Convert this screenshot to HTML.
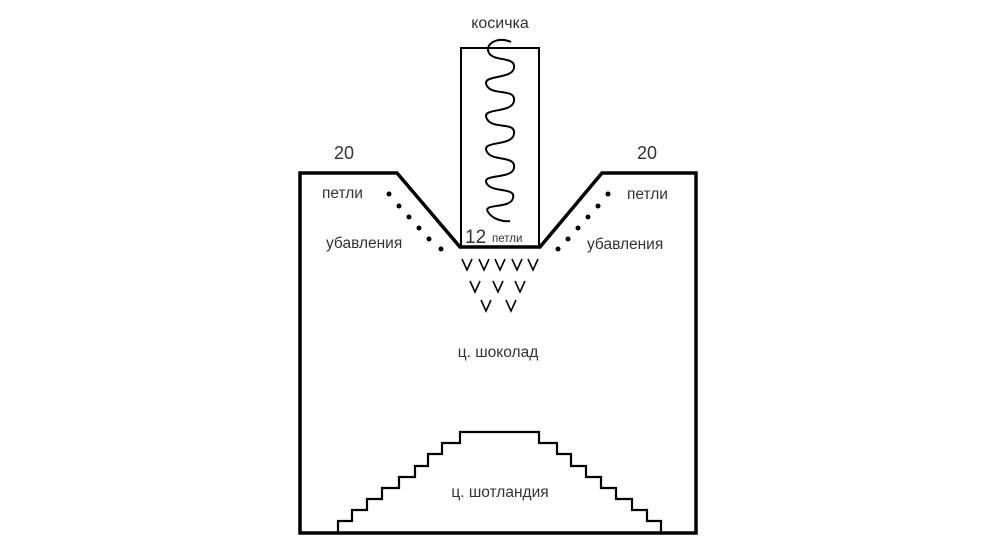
<!DOCTYPE html>
<html><head><meta charset="utf-8"><style>
html,body{margin:0;padding:0;background:#fff;}
svg{display:block}
text{font-family:"Liberation Sans","DejaVu Sans",sans-serif;fill:#333;}
</style></head><body>
<svg width="1000" height="560" viewBox="0 0 1000 560" xmlns="http://www.w3.org/2000/svg">
<path d="M300,533 L300,173 L397,173 L460,247 L540,247 L602,173 L696,173 L696,533 Z" fill="none" stroke="#000" stroke-width="3.5" stroke-linejoin="miter"/>
<rect x="461" y="48" width="78" height="199" fill="none" stroke="#000" stroke-width="2"/>
<path d="M338,533 V521 H352 V510 H367 V499 H382 V488 H399 V477 H415 V466 H428 V454 H442 V443 H460 V432 H539 V443 H557 V454 H571 V466 H586 V477 H601 V488 H616 V499 H632 V510 H647 V521 H661 V533" fill="none" stroke="#000" stroke-width="2.2"/>
<path d="M511,42 C498,36 484,44 489,53 C494,62 516,56 514,68 C512,80 480,74 487,86 C493,96 516,88 514,101 C512,114 480,107 487,119 C493,130 516,121 514,134 C512,147 480,140 487,152 C493,162 516,155 514,168 C512,180 480,173 487,184 C493,193 516,187 513,198 C511,209 482,203 488,212 C493,220 505,222 510,221" fill="none" stroke="#000" stroke-width="2"/>
<g fill="#000">
<circle cx="389" cy="194" r="2.5"/><circle cx="399" cy="206" r="2.5"/><circle cx="409" cy="217" r="2.5"/><circle cx="419" cy="228" r="2.5"/><circle cx="429" cy="239" r="2.5"/><circle cx="441" cy="249" r="2.5"/>
<circle cx="608" cy="194" r="2.5"/><circle cx="598" cy="206" r="2.5"/><circle cx="588" cy="217" r="2.5"/><circle cx="578" cy="228" r="2.5"/><circle cx="568" cy="239" r="2.5"/><circle cx="558" cy="249" r="2.5"/>
</g>
<g fill="none" stroke="#000" stroke-width="1.6">
<path d="M462,259 l5,11 l5,-11 M479,259 l5,11 l5,-11 M495,259 l5,11 l5,-11 M512,259 l5,11 l5,-11 M528,259 l5,11 l5,-11"/>
<path d="M470,281 l5,11 l5,-11 M493,281 l5,11 l5,-11 M515,281 l5,11 l5,-11"/>
<path d="M481,300 l5,11 l5,-11 M506,300 l5,11 l5,-11"/>
</g>
<text x="500" y="28" font-size="16" text-anchor="middle">косичка</text>
<text x="344" y="159" font-size="18" text-anchor="middle">20</text>
<text x="647" y="159" font-size="18" text-anchor="middle">20</text>
<text x="322" y="198" font-size="15.5">петли</text>
<text x="326" y="248" font-size="15.5">убавления</text>
<text x="627" y="199" font-size="15.5">петли</text>
<text x="587" y="249" font-size="15.5">убавления</text>
<text x="465" y="243" font-size="19">12</text>
<text x="492" y="242" font-size="11.5">петли</text>
<text x="498" y="357" font-size="15.5" text-anchor="middle">ц. шоколад</text>
<text x="500" y="497" font-size="15.5" text-anchor="middle">ц. шотландия</text>
</svg>
</body></html>
